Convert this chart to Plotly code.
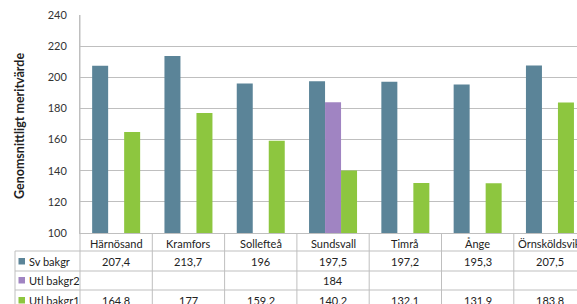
import plotly.graph_objects as go

categories = ["Härnösand", "Kramfors", "Sollefteå", "Sundsvall", "Timrå", "Ånge", "Örnsköldsvik"]
series_names = ["Sv bakgr", "Utl bakgr2", "Utl bakgr1"]
sv_bakgr = [207.4, 213.7, 196, 197.5, 197.2, 195.3, 207.5]
utl_bakgr2 = [None, None, None, 184, None, None, None]
utl_bakgr1 = [164.8, 177, 159.2, 140.2, 132.1, 131.9, 183.8]
y_ticks = [100, 120, 140, 160, 180, 200, 220, 240]
y_title = "Genomsnittligt meritvärde"

colors = ["#5B8498", "#A084C2", "#8DC63F"]
series = [sv_bakgr, utl_bakgr2, utl_bakgr1]
FONT = "Lato"
GRID = "#BFBFBF"

W, H = 577, 304
L, T, B = 80, 15, 233  # pixel edges of plot area


def py(y):
    return (B - y) / (B - T)


def px(x):
    return (x - L) / (W - L)


fig = go.Figure()
xs = list(range(len(categories)))
for name, vals, c in zip(series_names, series, colors):
    fig.add_trace(go.Bar(x=xs, y=vals, name=name, marker=dict(color=c, line=dict(width=0))))

# x-range so that each category column is ~72.3 px wide, last column cut off
col_px = 72.3
x_max = -0.5 + (W - L) / col_px

fig.update_layout(
    width=W, height=H,
    margin=dict(l=L, r=0, t=T, b=H - B, pad=0),
    paper_bgcolor="white", plot_bgcolor="white",
    barmode="group", bargap=0.336, bargroupgap=0,
    showlegend=False,
    font=dict(family=FONT, size=11, color="#222222"),
    xaxis=dict(range=[-0.5, x_max], showticklabels=False, showgrid=False,
               zeroline=False, showline=True, linecolor=GRID, linewidth=1, fixedrange=True),
    yaxis=dict(range=[100, 240], tickvals=y_ticks, showgrid=True, gridcolor=GRID,
               gridwidth=1, zeroline=False, showline=True, linecolor=GRID,
               ticks="", ticklabelstandoff=10,
               tickfont=dict(family=FONT, size=11, color="#333333")),
)

shapes = []
ann = []
row_lines = [251, 271, 290]
row_centers = [261, 280, 300]

# horizontal table lines
for yl in row_lines:
    shapes.append(dict(type="line", xref="paper", yref="paper", x0=px(15), x1=1.0,
                       y0=py(yl), y1=py(yl), line=dict(color=GRID, width=1)))
# left border of legend column
shapes.append(dict(type="line", xref="paper", yref="paper", x0=px(15), x1=px(15),
                   y0=py(251), y1=py(H + 2), line=dict(color=GRID, width=1)))
# left border of plot / table
shapes.append(dict(type="line", xref="paper", yref="paper", x0=0, x1=0,
                   y0=1, y1=py(H + 2), line=dict(color=GRID, width=1)))
# vertical category boundaries in the table
for i in range(len(categories)):
    xb = i + 0.5
    if xb < x_max:
        shapes.append(dict(type="line", xref="x", yref="paper", x0=xb, x1=xb,
                           y0=0, y1=py(H + 2), line=dict(color=GRID, width=1)))

# category labels
for i, cat in enumerate(categories):
    ann.append(dict(x=i, y=py(243), xref="x", yref="paper", text=cat, showarrow=False,
                    font=dict(family=FONT, size=11, color="#222222"),
                    xanchor="center", yanchor="middle"))


def fmt(v):
    return f"{v:g}".replace(".", ",")


for name, vals, c, yc in zip(series_names, series, colors, row_centers):
    # legend key
    shapes.append(dict(type="rect", xref="paper", yref="paper",
                       x0=px(18.5), x1=px(25), y0=py(yc + 3.5), y1=py(yc - 3),
                       fillcolor=c, line=dict(width=0)))
    ann.append(dict(x=px(27), y=py(yc), xref="paper", yref="paper", text=name,
                    showarrow=False, xanchor="left", yanchor="middle",
                    font=dict(family=FONT, size=11, color="#222222")))
    for i, v in enumerate(vals):
        if v is None:
            continue
        ann.append(dict(x=i, y=py(yc), xref="x", yref="paper", text=fmt(v),
                        showarrow=False, xanchor="center", yanchor="middle",
                        font=dict(family=FONT, size=11, color="#222222")))

# y-axis title
ann.append(dict(x=px(20), y=py(126), xref="paper", yref="paper", text="<b>" + y_title + "</b>",
                showarrow=False, textangle=-90, xanchor="center", yanchor="middle",
                font=dict(family=FONT, size=12.5, color="#222222")))

fig.update_layout(shapes=shapes, annotations=ann)
fig.write_html("out.html", config={"displayModeBar": False},
               post_script="document.body.style.margin='0px';document.body.style.overflow='hidden';")
